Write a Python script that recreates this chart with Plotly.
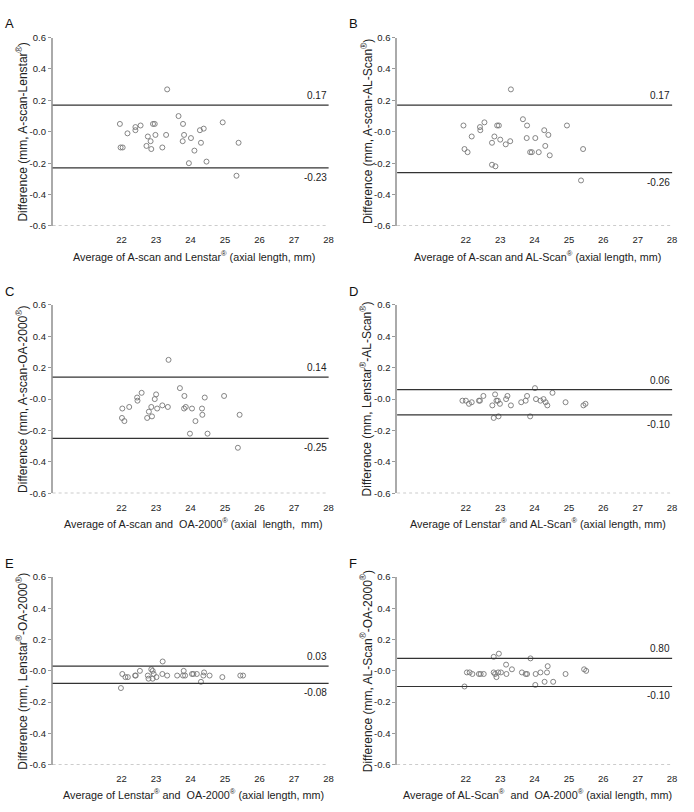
import plotly.graph_objects as go

W, H = 694, 812

panel_letters = ["A", "B", "C", "D", "E", "F"]

y_titles = [
    "Difference (mm, A-scan-Lenstar<sup>®</sup>)",
    "Difference (mm, A-scan-AL-Scan<sup>®</sup>)",
    "Difference (mm, A-scan-OA-2000<sup>®</sup>)",
    "Difference (mm, Lenstar<sup>®</sup>-AL-Scan<sup>®</sup>)",
    "Difference (mm, Lenstar<sup>®</sup>-OA-2000<sup>®</sup>)",
    "Difference (mm, AL-Scan<sup>®</sup>-OA-2000<sup>®</sup>)",
]
x_titles = [
    "Average of A-scan and Lenstar<sup>®</sup> (axial length, mm)",
    "Average of A-scan and AL-Scan<sup>®</sup> (axial length, mm)",
    "Average of A-scan and  OA-2000<sup>®</sup> (axial  length,  mm)",
    "Average of Lenstar<sup>®</sup> and AL-Scan<sup>®</sup> (axial length, mm)",
    "Average of Lenstar<sup>®</sup> and  OA-2000<sup>®</sup> (axial length, mm)",
    "Average of AL-Scan<sup>®</sup>  and  OA-2000<sup>®</sup> (axial length, mm)",
]

# limits of agreement (line position) and printed labels
upper_loa = [0.17, 0.17, 0.14, 0.06, 0.03, 0.08]
lower_loa = [-0.23, -0.26, -0.25, -0.10, -0.08, -0.10]
upper_lbl = ["0.17", "0.17", "0.14", "0.06", "0.03", "0.80"]
lower_lbl = ["-0.23", "-0.26", "-0.25", "-0.10", "-0.08", "-0.10"]

x_tick_vals = [22, 23, 24, 25, 26, 27, 28]
y_tick_vals = [-0.6, -0.4, -0.2, 0.0, 0.2, 0.4, 0.6]
y_tick_text = ["-0.6", "-0.4", "-0.2", "-0.0", "0.2", "0.4", "0.6"]
x_range = [20, 28]
y_range = [-0.6, 0.6]

# Panel A: A-scan vs Lenstar
a_mean = [21.95, 21.97, 22.03, 22.17, 22.40, 22.40, 22.55, 22.72, 22.76, 22.84, 22.86,
          22.91, 22.96, 22.98, 23.18, 23.29, 23.32, 23.65, 23.78, 23.77, 23.81, 23.95,
          24.01, 24.11, 24.27, 24.38, 24.30, 24.46, 24.93, 25.33, 25.39]
a_diff = [0.05, -0.10, -0.10, -0.01, 0.03, 0.01, 0.04, -0.09, -0.03, -0.06, -0.11,
          0.05, 0.05, -0.02, -0.10, -0.02, 0.27, 0.10, 0.05, -0.06, -0.02, -0.20,
          -0.04, -0.12, 0.01, 0.02, -0.07, -0.19, 0.06, -0.28, -0.07]
# Panel B: A-scan vs AL-Scan
b_mean = [21.93, 21.96, 22.05, 22.17, 22.41, 22.42, 22.54, 22.76, 22.83, 22.76, 22.91,
          22.96, 22.86, 23.00, 23.16, 23.29, 23.31, 23.66, 23.78, 23.77, 23.87, 23.92,
          24.02, 24.12, 24.28, 24.31, 24.40, 24.44, 24.94, 25.35, 25.41]
b_diff = [0.04, -0.11, -0.13, -0.03, 0.03, 0.01, 0.06, -0.07, -0.03, -0.21, 0.04,
          0.04, -0.22, -0.05, -0.08, -0.06, 0.27, 0.08, 0.04, -0.04, -0.13, -0.13,
          -0.04, -0.13, 0.01, -0.09, -0.02, -0.15, 0.04, -0.31, -0.11]
# Panel C: A-scan vs OA-2000
c_mean = [22.02, 22.01, 22.08, 22.22, 22.45, 22.46, 22.58, 22.74, 22.79, 22.86, 22.88,
          22.96, 23.00, 23.03, 23.18, 23.34, 23.36, 23.69, 23.82, 23.81, 23.86, 23.98,
          24.04, 24.14, 24.33, 24.34, 24.41, 24.49, 24.97, 25.37, 25.42]
c_diff = [-0.06, -0.12, -0.14, -0.05, 0.01, -0.01, 0.04, -0.12, -0.08, -0.05, -0.11,
          0.00, 0.03, -0.06, -0.04, -0.05, 0.25, 0.07, 0.02, -0.06, -0.05, -0.22,
          -0.06, -0.14, -0.06, -0.10, 0.01, -0.22, 0.02, -0.31, -0.10]
# Panel D: Lenstar vs AL-Scan
d_mean = [21.90, 22.00, 22.09, 22.17, 22.38, 22.41, 22.51, 22.77, 22.85, 22.81, 22.89,
          22.93, 22.95, 22.99, 23.17, 23.21, 23.31, 23.61, 23.74, 23.78, 23.87, 24.01,
          24.04, 24.17, 24.26, 24.32, 24.37, 24.52, 24.90, 25.42, 25.48]
d_diff = [-0.01, -0.01, -0.03, -0.02, -0.01, -0.01, 0.02, -0.04, 0.03, -0.12, -0.01,
          -0.01, -0.11, -0.03, 0.00, 0.02, -0.04, -0.02, -0.01, 0.02, -0.11, 0.07,
          0.00, -0.01, 0.00, -0.02, -0.04, 0.04, -0.02, -0.04, -0.03]
# Panel E: Lenstar vs OA-2000
e_mean = [21.98, 22.02, 22.11, 22.18, 22.39, 22.41, 22.53, 22.76, 22.78, 22.86, 22.90,
          22.90, 22.93, 23.01, 23.18, 23.19, 23.32, 23.61, 23.78, 23.80, 23.84, 24.04,
          24.08, 24.18, 24.30, 24.37, 24.39, 24.55, 24.92, 25.44, 25.52]
e_diff = [-0.11, -0.02, -0.04, -0.04, -0.03, -0.03, 0.00, -0.03, -0.05, 0.01, 0.00,
          -0.05, -0.02, -0.04, -0.02, 0.06, -0.03, -0.03, -0.03, 0.00, -0.03, -0.02,
          -0.02, -0.02, -0.07, -0.03, -0.01, -0.03, -0.04, -0.03, -0.03]
# Panel F: AL-Scan vs OA-2000
f_mean = [21.96, 22.03, 22.11, 22.19, 22.38, 22.43, 22.52, 22.81, 22.81, 22.85, 22.89,
          22.96, 22.94, 23.02, 23.17, 23.18, 23.34, 23.63, 23.74, 23.78, 23.88, 24.02,
          24.03, 24.17, 24.29, 24.36, 24.38, 24.54, 24.90, 25.44, 25.50]
f_diff = [-0.10, -0.01, -0.01, -0.02, -0.02, -0.02, -0.02, 0.09, -0.01, -0.02, -0.04,
          0.11, -0.01, -0.01, 0.04, -0.02, 0.01, -0.01, -0.02, -0.02, 0.08, -0.09,
          -0.02, -0.01, -0.07, -0.01, 0.03, -0.07, -0.02, 0.01, 0.00]

means = [a_mean, b_mean, c_mean, d_mean, e_mean, f_mean]
diffs = [a_diff, b_diff, c_diff, d_diff, e_diff, f_diff]

# layout (pixels)
col_x = [(53, 331), (400, 677)]
row_y = [(32, 223), (303, 494), (579, 769)]

FONT = "Liberation Sans, Arial, sans-serif"
TXT = "#222222"

fig = go.Figure()
annotations = []
shapes = []

for i in range(6):
    r, c = divmod(i, 2)
    x0, x1 = col_x[c]
    y0, y1 = row_y[r]
    n = "" if i == 0 else str(i + 1)
    xa, ya = "x" + n, "y" + n

    fig.add_trace(go.Scatter(
        x=means[i], y=diffs[i], mode="markers", xaxis=xa, yaxis=ya,
        marker=dict(symbol="circle-open", size=5, color="#777777",
                    line=dict(width=0.9, color="#777777")),
        showlegend=False, hoverinfo="x+y"))

    fig.layout["xaxis" + n] = dict(
        domain=[x0 / W, x1 / W], anchor=ya, range=x_range,
        tickvals=x_tick_vals, ticks="outside", ticklen=5, tickcolor="rgba(0,0,0,0)",
        showline=False, showgrid=False, zeroline=False,
        tickfont=dict(family=FONT, size=9.5, color=TXT))
    fig.layout["yaxis" + n] = dict(
        domain=[1 - y1 / H, 1 - y0 / H], anchor=xa, range=y_range,
        tickvals=y_tick_vals, ticktext=y_tick_text, ticks="outside", ticklen=3,
        tickcolor="#999999", tickwidth=1,
        showline=True, linecolor="#aaaaaa", linewidth=1.5,
        showgrid=False, zeroline=False,
        tickfont=dict(family=FONT, size=9.5, color=TXT))

    # dotted bottom axis line
    shapes.append(dict(type="line", xref=xa + " domain", yref=ya,
                       x0=0, x1=1, y0=y_range[0], y1=y_range[0],
                       line=dict(color="#999999", width=1.2, dash="dot")))
    # limits of agreement
    for v in (upper_loa[i], lower_loa[i]):
        shapes.append(dict(type="line", xref=xa + " domain", yref=ya,
                           x0=0, x1=1, y0=v, y1=v,
                           line=dict(color="#333333", width=1.2)))
    annotations.append(dict(text=upper_lbl[i], xref=xa + " domain", yref=ya,
                            x=1, y=upper_loa[i], xanchor="right", yanchor="bottom",
                            yshift=2, showarrow=False,
                            font=dict(family=FONT, size=10, color=TXT)))
    annotations.append(dict(text=lower_lbl[i], xref=xa + " domain", yref=ya,
                            x=1, y=lower_loa[i], xanchor="right", yanchor="top",
                            yshift=-2, showarrow=False,
                            font=dict(family=FONT, size=10, color=TXT)))

    # panel letter
    annotations.append(dict(text=panel_letters[i], xref="paper", yref="paper",
                            x=(x0 - 50) / W, y=1 - (y0 - 14) / H,
                            xanchor="left", yanchor="middle", showarrow=False,
                            font=dict(family=FONT, size=13, color="#111111")))
    # y title
    annotations.append(dict(text=y_titles[i], xref="paper", yref="paper",
                            x=(x0 - 31) / W, y=1 - ((y0 + y1) / 2) / H,
                            xanchor="center", yanchor="middle", textangle=-90,
                            showarrow=False,
                            font=dict(family=FONT, size=12, color=TXT)))
    # x title
    annotations.append(dict(text=x_titles[i], xref="paper", yref="paper",
                            x=((x0 + x1) / 2 + 3) / W, y=1 - (y1 + 30) / H,
                            xanchor="center", yanchor="middle", showarrow=False,
                            font=dict(family=FONT, size=10.8, color=TXT)))

fig.update_layout(width=W, height=H, margin=dict(l=0, r=0, t=0, b=0),
                  paper_bgcolor="white", plot_bgcolor="white",
                  annotations=annotations, shapes=shapes,
                  font=dict(family=FONT, color=TXT))

fig.write_html("out.html")
